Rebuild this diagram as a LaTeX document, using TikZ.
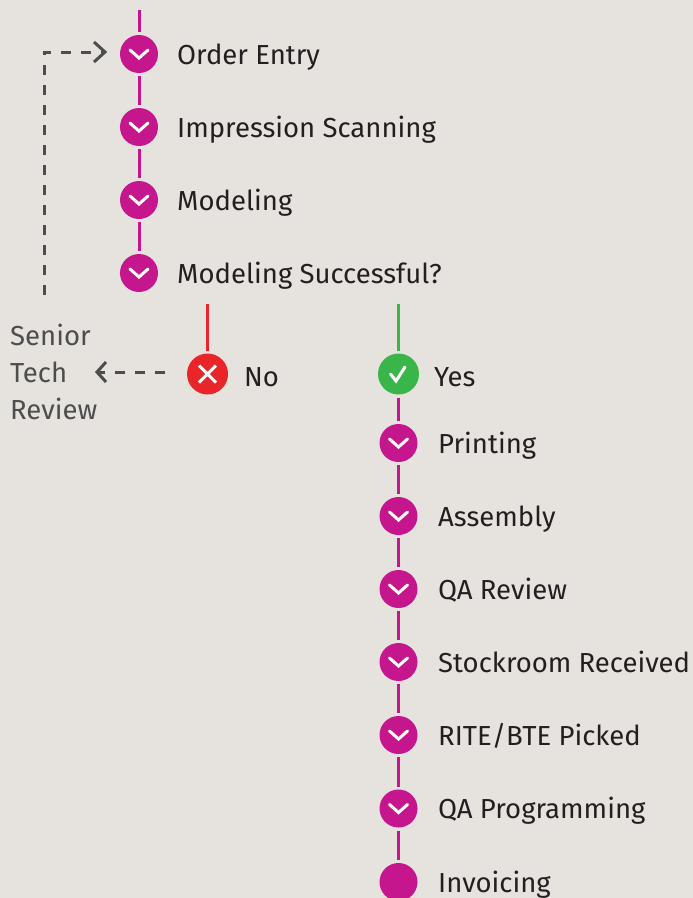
\documentclass[tikz,border=0pt]{standalone}
\usepackage{fontspec}
\setmainfont{Fira Sans}
\usetikzlibrary{arrows.meta}
\definecolor{bg}{HTML}{E6E3DF}
\definecolor{mag}{HTML}{C6168D}
\definecolor{redc}{HTML}{E8262A}
\definecolor{greenc}{HTML}{3AB54A}
\definecolor{txt}{HTML}{231F20}
\definecolor{graytxt}{HTML}{4D4D4D}
\tikzset{
  dot/.style={circle, fill=#1, minimum size=38bp, inner sep=0pt, outer sep=3bp},
  chev/.style={dot=mag, path picture={\draw[white, line width=3bp, line cap=round, line join=miter]
     ([xshift=-9bp,yshift=4bp]path picture bounding box.center) -- ++(9bp,-8bp) -- ++(9bp,8bp);}},
  plain/.style={dot=mag},
  nobox/.style={dot=redc, minimum size=41bp, path picture={\draw[white, line width=3bp]
     ([xshift=-8.5bp,yshift=-8.5bp]path picture bounding box.center) -- ++(17bp,17bp)
     ([xshift=-8.5bp,yshift=8.5bp]path picture bounding box.center) -- ++(17bp,-17bp);}},
  yesbox/.style={dot=greenc, minimum size=41bp, path picture={\draw[white, line width=3bp, line cap=round]
     ([xshift=-8bp,yshift=0bp]path picture bounding box.center) -- ++(5.5bp,-7bp) -- ++(9bp,14bp);}},
  lbl/.style={anchor=base west, inner sep=0pt, text=txt, font=\fontsize{27.6}{32}\selectfont},
  glbl/.style={anchor=base west, inner sep=0pt, text=graytxt, font=\fontsize{27.6}{32}\selectfont},
  conn/.style={line width=3bp, draw=#1},
  dashc/.style={line width=3bp, draw=graytxt, dash pattern=on 10bp off 10bp},
  chevtip/.style={-{Straight Barb[length=9bp, width=20bp, line width=3bp]}},
}
\begin{document}
\begin{tikzpicture}[x=1bp, y=-1bp]
\fill[bg] (0,0) rectangle (693,898);
\useasboundingbox (0,0) rectangle (693,898);
% left column
\coordinate (top) at (139,10);
\node[chev] (c1) at (139,54) {};
\node[chev] (c2) at (139,127) {};
\node[chev] (c3) at (139,200) {};
\node[chev] (c4) at (139,273) {};
\node[lbl] (t1) at (177,64) {Order Entry};
\node[lbl] (t2) at (177,137) {Impression Scanning};
\node[lbl] (t3) at (177,210) {Modeling};
\node[lbl] (t4) at (177,283) {Modeling Successful?};
\draw[conn=mag] (top) -- (c1);
\draw[conn=mag] (c1) -- (c2);
\draw[conn=mag] (c2) -- (c3);
\draw[conn=mag] (c3) -- (c4);
% branches
\coordinate (rtop) at (207.5,304);
\coordinate (gtop) at (398.5,304);
\node[nobox] (no) at (207.5,374) {};
\node[yesbox] (yes) at (398.5,374) {};
\node[lbl] (tno) at (244,386) {No};
\node[lbl] (tyes) at (434,386) {Yes};
\draw[conn=redc] (rtop) -- (no);
\draw[conn=greenc] (gtop) -- (yes);
% senior tech review
\node[glbl] (str) at (10,345) {Senior};
\node[glbl] (str2) at (10,382) {Tech};
\node[glbl] (str3) at (10,419) {Review};
\coordinate (noL) at (165,372);
\coordinate (srt) at (95,372);
\draw[dashc, chevtip] (noL) -- (srt);
% loop back
\coordinate (lb) at (44,295);
\coordinate (lc) at (44,52);
\coordinate (la) at (105,52);
\draw[dashc] (lb) -- (lc) -- (la);
\draw[line width=3bp, draw=graytxt, line cap=butt] (94,42) -- (105,52) -- (94,62);
% right column
\node[chev] (r1) at (398.5,443) {};
\node[chev] (r2) at (398.5,516) {};
\node[chev] (r3) at (398.5,589) {};
\node[chev] (r4) at (398.5,662) {};
\node[chev] (r5) at (398.5,735) {};
\node[chev] (r6) at (398.5,808.5) {};
\node[plain] (r7) at (398.5,882) {};
\node[lbl] (s1) at (438,453) {Printing};
\node[lbl] (s2) at (438,526) {Assembly};
\node[lbl] (s3) at (438,599) {QA Review};
\node[lbl] (s4) at (438,672) {Stockroom Received};
\node[lbl] (s5) at (438,745) {RITE/BTE Picked};
\node[lbl] (s6) at (438,818.5) {QA Programming};
\node[lbl] (s7) at (438,892) {Invoicing};
\draw[conn=mag] (yes) -- (r1);
\draw[conn=mag] (r1) -- (r2);
\draw[conn=mag] (r2) -- (r3);
\draw[conn=mag] (r3) -- (r4);
\draw[conn=mag] (r4) -- (r5);
\draw[conn=mag] (r5) -- (r6);
\draw[conn=mag] (r6) -- (r7);
\end{tikzpicture}
\end{document}
